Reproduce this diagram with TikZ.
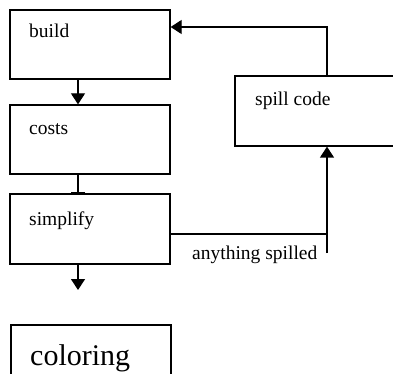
\documentclass[tikz,border=0pt]{standalone}
\usepackage{fontspec}
\setmainfont{Liberation Serif}
\usetikzlibrary{arrows.meta}
\begin{document}
\begin{tikzpicture}[x=1pt,y=-1pt,
  box/.style={draw, line width=1.3pt, fill=white, inner sep=0pt},
  lbl/.style={anchor=base west, inner sep=0pt, font=\fontsize{19.5}{22}\selectfont},
  flow/.style={line width=1.3pt},
  tip/.style={-{Triangle[width=14pt,length=11pt]}}]
\clip (0,0) rectangle (393,374);
\fill[white] (0,0) rectangle (393,374);

% guide coordinates for the connector lines
\coordinate (mainx) at (78,0);
\coordinate (loopx) at (327,0);
\coordinate (ytop) at (0,27);
\coordinate (yspill) at (0,234);
\coordinate (ylow) at (0,253);
\coordinate (yend) at (0,290);

% boxes
\node[box, minimum width=160pt, minimum height=69pt] (build) at (90,44.5) {};
\node[box, minimum width=160pt, minimum height=69pt] (costs) at (90,139.5) {};
\node[box, minimum width=160pt, minimum height=70pt] (simplify) at (90,229) {};
\node[box, minimum width=160pt, minimum height=75pt] (coloring) at (91,362.5) {};
\node[box, minimum width=180pt, minimum height=70pt] (spill) at (325,111) {};

% box texts
\node[lbl] (buildtxt) at (29,38) {build};
\node[lbl] (coststxt) at (29,135) {costs};
\node[lbl] (simplifytxt) at (29,225) {simplify};
\node[lbl] (spilltxt) at (255,106) {spill code};
\node[lbl, font=\fontsize{30}{34}\selectfont] (coloringtxt) at (30,365) {coloring};

% main chain
\draw[flow,tip] (mainx |- build.south) -- (mainx |- costs.north);
\draw[flow,-{Bar[width=14pt]}] (mainx |- costs.south) -- (mainx |- simplify.north);
\coordinate (downend) at (mainx |- yend);
\draw[flow,tip] (mainx |- simplify.south) -- (downend);

% spill loop
\draw[flow] (simplify.east |- yspill) -- (loopx |- yspill);
\draw[flow,tip] (loopx |- ylow) -- (loopx |- spill.south);
\draw[flow,tip] (loopx |- spill.north) -- (loopx |- ytop) -- (build.east |- ytop);
\node[lbl] (spilledtxt) at (192,259) {anything spilled};
\end{tikzpicture}
\end{document}
